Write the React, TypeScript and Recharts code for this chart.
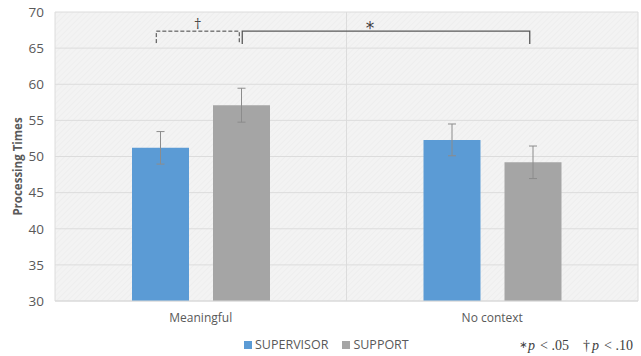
import React from 'react';
import {
  BarChart,
  Bar,
  XAxis,
  YAxis,
  CartesianGrid,
  ErrorBar,
} from 'recharts';

const conditions = ['Meaningful', 'No context'];
const supervisor = [51.2, 52.3];
const supervisorErr = [2.25, 2.2];
const support = [57.1, 49.2];
const supportErr = [2.35, 2.25];
const yTicks = [30, 35, 40, 45, 50, 55, 60, 65, 70];
const seriesNames = ['SUPERVISOR', 'SUPPORT'];
const seriesColors = ['#5b9bd5', '#a5a5a5'];

const data = conditions.map((name, i) => ({
  name,
  supervisor: supervisor[i],
  supervisorErr: supervisorErr[i],
  support: support[i],
  supportErr: supportErr[i],
}));

const W = 641;
const H = 356;
const margin = { top: 12, right: 3, bottom: 30, left: 10 };
const yAxisWidth = 45;
const xAxisHeight = 25;
const plotLeft = margin.left + yAxisWidth;
const plotWidth = W - plotLeft - margin.right;
const plotHeight = H - margin.top - margin.bottom - xAxisHeight;
const barSize = 57;
const barGap = 24;

// pixel helpers for the significance brackets
const yPx = (v: number) => margin.top + ((70 - v) / 40) * plotHeight;
const band = plotWidth / conditions.length;
const barCenter = (cat: number, series: number) =>
  plotLeft + band * cat + (band - (barSize * 2 + barGap)) / 2 + series * (barSize + barGap) + barSize / 2;

const font = '"Open Sans", sans-serif';
const axisColor = '#595959';
const serif = '"Liberation Serif", serif';

const App = () => {
  const bTop = yPx(67.35);
  const bBot = yPx(65.7);
  const x1 = barCenter(0, 0) - 4;
  const x2 = barCenter(0, 1) - 2;
  const x3 = barCenter(1, 1) - 3;

  return (
    <div style={{ position: 'absolute', left: 0, top: 0, width: W, height: H, background: '#fff' }}>
      <svg width={0} height={0} style={{ position: 'absolute' }}>
        <defs>
          <pattern id="hatch" width={4} height={4} patternUnits="userSpaceOnUse" patternTransform="rotate(45)">
            <rect width={4} height={4} fill="#f3f3f3" />
            <line x1={0} y1={0} x2={0} y2={4} stroke="#ededed" strokeWidth={1.5} />
          </pattern>
        </defs>
      </svg>
      <BarChart width={W} height={H} data={data} margin={margin} barSize={barSize} barGap={barGap}>
        <CartesianGrid
          stroke="#dcdcdc"
          fill="url(#hatch)"
          fillOpacity={1}
          verticalCoordinatesGenerator={({ offset }: any) => [
            offset.left,
            offset.left + offset.width / 2,
            offset.left + offset.width,
          ]}
        />
        <XAxis
          dataKey="name"
          height={xAxisHeight}
          axisLine={{ stroke: '#d9d9d9' }}
          tickLine={false}
          tickMargin={6}
          tick={{ fill: axisColor, fontSize: 12, fontFamily: font }}
        />
        <YAxis
          width={yAxisWidth}
          domain={[30, 70]}
          ticks={yTicks}
          axisLine={false}
          tickLine={false}
          tickSize={0}
          tickMargin={11}
          tick={{ fill: axisColor, fontSize: 13.5, fontFamily: font }}
        />
        <Bar dataKey="supervisor" name={seriesNames[0]} fill={seriesColors[0]} isAnimationActive={false}>
          <ErrorBar dataKey="supervisorErr" width={4} stroke="#8c8c8c" strokeWidth={1} />
        </Bar>
        <Bar dataKey="support" name={seriesNames[1]} fill={seriesColors[1]} isAnimationActive={false}>
          <ErrorBar dataKey="supportErr" width={4} stroke="#8c8c8c" strokeWidth={1} />
        </Bar>
      </BarChart>

      {/* legend */}
      <div
        style={{
          position: 'absolute',
          left: 244,
          top: 337,
          display: 'flex',
          gap: 14,
          fontFamily: font,
          fontSize: 12.5,
          color: axisColor,
          lineHeight: '16px',
        }}
      >
        {seriesNames.map((label, i) => (
          <span key={label} style={{ display: 'flex', alignItems: 'center' }}>
            <span style={{ width: 8, height: 8, background: seriesColors[i], marginRight: 3, display: 'inline-block' }} />
            {label}
          </span>
        ))}
      </div>

      <svg width={W} height={H} style={{ position: 'absolute', left: 0, top: 0, pointerEvents: 'none' }}>
        <text
          transform={`translate(19, ${margin.top + plotHeight / 2 + 10}) rotate(-90)`}
          textAnchor="middle"
          dominantBaseline="middle"
          fontFamily={font}
          fontSize={11.5}
          fontWeight="bold"
          fill={axisColor}
        >
          Processing Times
        </text>
        <path
          d={`M${x1},${bBot} V${bTop} H${x2} V${bBot}`}
          fill="none"
          stroke="#404040"
          strokeWidth={1}
          strokeDasharray="4 2"
        />
        <path d={`M${x2 + 3},${bBot + 1} V${bTop} H${x3} V${bBot + 1}`} fill="none" stroke="#595959" strokeWidth={1.3} />
        <text x={(x1 + x2) / 2} y={bTop - 3} textAnchor="middle" fontFamily="DejaVu Serif, serif" fontSize={13} fill="#404040">
          †
        </text>
        <text x={370} y={bTop + 3} textAnchor="middle" fontFamily="DejaVu Sans, sans-serif" fontSize={17} fill="#404040">
          *
        </text>
        <g fontFamily={serif} fontSize={14} fill="#404040">
          <text x={519} y={348} fontFamily="DejaVu Sans, sans-serif" fontSize={10}>∗</text>
          <text x={528} y={350} fontStyle="italic">p</text>
          <text x={540} y={350}>&lt; .05</text>
          <text x={583} y={350}>†</text>
          <text x={592} y={350} fontStyle="italic">p</text>
          <text x={604} y={350}>&lt; .10</text>
        </g>
      </svg>
    </div>
  );
};

export default App;
